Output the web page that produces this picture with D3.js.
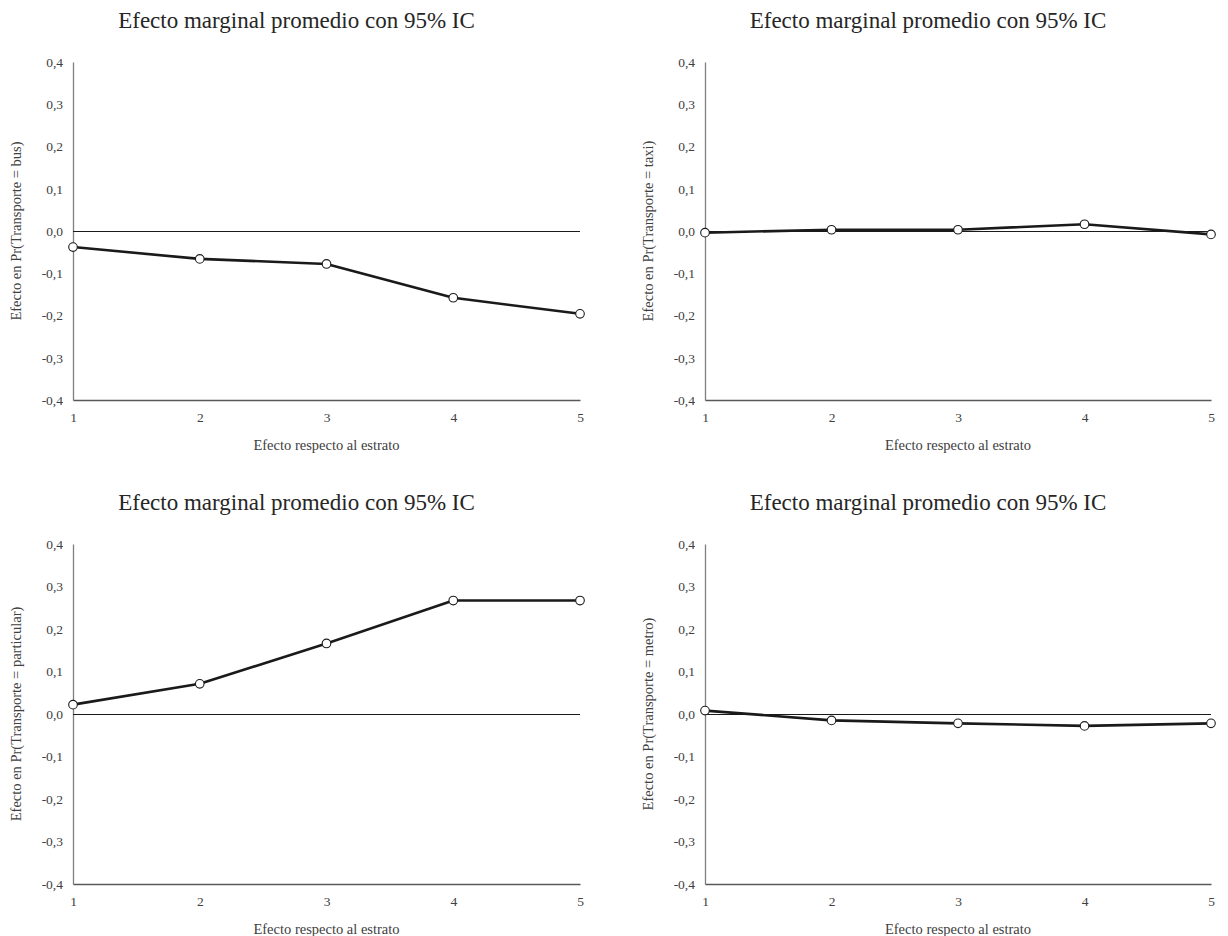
<!DOCTYPE html>
<html>
<head>
<meta charset="utf-8">
<script src="https://cdn.jsdelivr.net/npm/d3@7"></script>
<style>
    body { margin: 0; background: #fff; }
    svg text { font-family: 'Liberation Serif', 'DejaVu Serif', serif; }
</style>
</head>
<body>
<div id="chart"></div>
<script>
// Data
const estratos = [1, 2, 3, 4, 5];
const yTicks = [0.4, 0.3, 0.2, 0.1, 0.0, -0.1, -0.2, -0.3, -0.4];
const transportes = ['bus', 'taxi', 'particular', 'metro'];
const busValues = [-0.038, -0.066, -0.078, -0.158, -0.196];
const taxiValues = [-0.004, 0.003, 0.003, 0.016, -0.008];
const particularValues = [0.022, 0.071, 0.166, 0.267, 0.267];
const metroValues = [0.008, -0.015, -0.022, -0.028, -0.022];

const chartTitle = 'Efecto marginal promedio con 95% IC';
const xLabel = 'Efecto respecto al estrato';

const allValues = [busValues, taxiValues, particularValues, metroValues];

const width = 1228;
const height = 936;

const svg = d3.select('#chart')
    .append('svg')
        .attr('viewBox', [0, 0, width, height])
        .attr('width', width)
        .attr('height', height);

// panel frames (left, right, top, bottom of the plot area)
const cols = [[73, 580], [705, 1211]];
const rows = [[62, 400], [544, 884]];

const fmt = d => d.toFixed(1).replace('.', ',');
const tickFont = 13.5;
const labelFont = 14.5;

transportes.forEach((transporte, i) => {
    const [x0, x1] = cols[i % 2];
    const [y0, y1] = rows[Math.floor(i / 2)];
    const values = allValues[i];

    const xScale = d3.scaleLinear()
        .domain([1, 5])
        .range([x0, x1]);

    const yScale = d3.scaleLinear()
        .domain([-0.4, 0.4])
        .range([y1, y0]);

    const panel = svg.append('g').attr('class', 'panel');

    // Title
    panel
        .append('text')
            .attr('x', (x0 + x1) / 2 - 30)
            .attr('y', y0 - 34)
            .attr('text-anchor', 'middle')
            .attr('font-size', 23)
            .attr('fill', '#262626')
            .text(chartTitle);

    // Y axis
    const yAxis = panel
        .append('g')
            .attr('transform', `translate(${x0}, 0)`)
            .call(d3.axisLeft(yScale).tickValues(yTicks).tickSize(0).tickPadding(10).tickFormat(fmt));
    yAxis.select('.domain').attr('stroke', '#7f7f7f').attr('stroke-width', 1.3);
    yAxis.selectAll('text')
        .attr('font-size', tickFont)
        .attr('fill', '#404040')
        .attr('font-family', "'Liberation Serif', serif");

    // X axis sits at the bottom of the value range
    const xAxis = panel
        .append('g')
            .attr('transform', `translate(0, ${yScale(-0.4)})`)
            .call(d3.axisBottom(xScale).tickValues(estratos).tickSize(0).tickPadding(12).tickFormat(d3.format('d')));
    xAxis.select('.domain').attr('stroke', '#595959').attr('stroke-width', 1.3);
    xAxis.selectAll('text')
        .attr('font-size', tickFont)
        .attr('fill', '#404040')
        .attr('font-family', "'Liberation Serif', serif");

    // Zero line
    panel
        .append('line')
            .attr('x1', xScale(1))
            .attr('x2', xScale(5))
            .attr('y1', yScale(0) + 0.5)
            .attr('y2', yScale(0) + 0.5)
            .attr('stroke', '#1a1a1a')
            .attr('stroke-width', 1);

    // Axis titles
    panel
        .append('text')
            .attr('x', (x0 + x1) / 2)
            .attr('y', y1 + 50)
            .attr('text-anchor', 'middle')
            .attr('font-size', labelFont)
            .attr('fill', '#404040')
            .text(xLabel);
    panel
        .append('text')
            .attr('transform', `translate(${x0 - 52}, ${(y0 + y1) / 2}) rotate(-90)`)
            .attr('text-anchor', 'middle')
            .attr('font-size', labelFont)
            .attr('fill', '#404040')
            .text(`Efecto en Pr(Transporte = ${transporte})`);

    // Line and markers
    const line = d3.line()
        .x((d, j) => xScale(estratos[j]))
        .y(d => yScale(d));

    panel
        .append('path')
            .datum(values)
            .attr('d', line)
            .attr('fill', 'none')
            .attr('stroke', '#1a1a1a')
            .attr('stroke-width', 2.6)
            .attr('stroke-linejoin', 'round');

    panel
        .append('g')
            .attr('class', 'markers')
        .selectAll('circle')
        .data(values)
        .join('circle')
            .attr('cx', (d, j) => xScale(estratos[j]))
            .attr('cy', d => yScale(d))
            .attr('r', 4.3)
            .attr('fill', '#fff')
            .attr('stroke', '#1a1a1a')
            .attr('stroke-width', 1.1);
});
</script>
</body>
</html>
